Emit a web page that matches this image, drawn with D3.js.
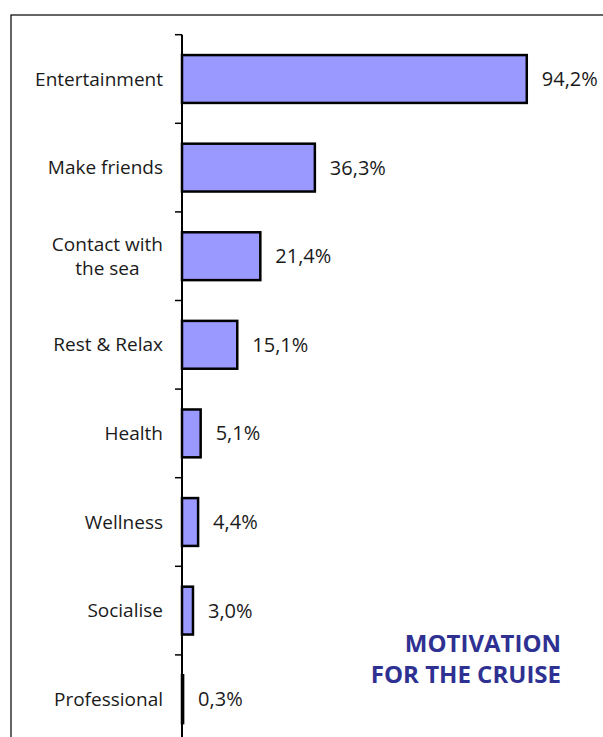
<!DOCTYPE html>
<html><head><meta charset="utf-8">
<script src="https://cdn.jsdelivr.net/npm/d3@7"></script>
<style>body{margin:0;background:#fff}svg{display:block}</style>
</head><body>
<script>
const categories = ["Entertainment","Make friends","Contact with|the sea","Rest & Relax","Health","Wellness","Socialise","Professional"];
const values = [94.2,36.3,21.4,15.1,5.1,4.4,3.0,0.3];
const valueLabels = ["94,2%","36,3%","21,4%","15,1%","5,1%","4,4%","3,0%","0,3%"];
const titleLines = ["MOTIVATION","FOR THE CRUISE"];

const W=603,H=737;
const svg=d3.select("body").append("svg").attr("width",W).attr("height",H);
const font="'Open Sans', sans-serif";
const catSize=19, valSize=20;

svg.append("rect").attr("x",11).attr("y",15).attr("width",W).attr("height",H).attr("fill","none").attr("stroke","#000").attr("stroke-width",1.2);

const x=d3.scaleLinear().domain([0,100]).range([182,548]);
const y=d3.scaleBand().domain(categories).range([34.7,34.7+88.6*8]).paddingInner(0.46).paddingOuter(0.23);

const g=svg.append("g");
const bandStep=y.step();
const tickYs=d3.range(categories.length).map(i=>34.7+i*bandStep);
g.append("line").attr("x1",x(0)).attr("x2",x(0)).attr("y1",34.7).attr("y2",H).attr("stroke","#000").attr("stroke-width",2);
g.selectAll("line.tick").data(tickYs).enter().append("line").attr("class","tick")
 .attr("x1",x(0)-7).attr("x2",x(0)).attr("y1",d=>d).attr("y2",d=>d).attr("stroke","#000").attr("stroke-width",1.5);

svg.selectAll("rect.bar").data(values).enter().append("rect").attr("class","bar")
 .attr("x",x(0)).attr("y",(d,i)=>y(categories[i]))
 .attr("width",d=>x(d)-x(0)).attr("height",y.bandwidth())
 .attr("fill","#9999ff").attr("stroke","#000").attr("stroke-width",2.5);

svg.selectAll("text.val").data(values).enter().append("text").attr("class","val")
 .attr("x",d=>x(d)+15).attr("y",(d,i)=>y(categories[i])+y.bandwidth()/2)
 .attr("dy","0.35em").attr("font-family",font).attr("font-size",valSize).attr("fill","#1a1a1a")
 .text((d,i)=>valueLabels[i]);

categories.forEach((c,i)=>{
  const lines=c.split("|");
  const cy=y(c)+y.bandwidth()/2;
  const t=svg.append("text").attr("font-family",font).attr("font-size",catSize).attr("fill","#1a1a1a");
  if(lines.length===1){
    t.attr("x",163).attr("y",cy).attr("dy","0.35em").attr("text-anchor","end").text(c);
  } else {
    const tmp=svg.append("text").attr("font-family",font).attr("font-size",catSize).text(lines[0]);
    const w=tmp.node().getComputedTextLength(); tmp.remove();
    const cx=163-w/2;
    lines.forEach((l,j)=>{
      t.append("tspan").attr("x",cx).attr("text-anchor","middle").attr("y",cy+(j-(lines.length-1)/2)*24).attr("dy","0.35em").text(l);
    });
  }
});

const tt=svg.append("text").attr("font-family",font).attr("font-weight","bold").attr("font-size",24).attr("fill","#2e3192").attr("text-anchor","end");
titleLines.forEach((l,j)=>tt.append("tspan").attr("x",561).attr("y",652+j*31).text(l));
</script>
</body></html>
